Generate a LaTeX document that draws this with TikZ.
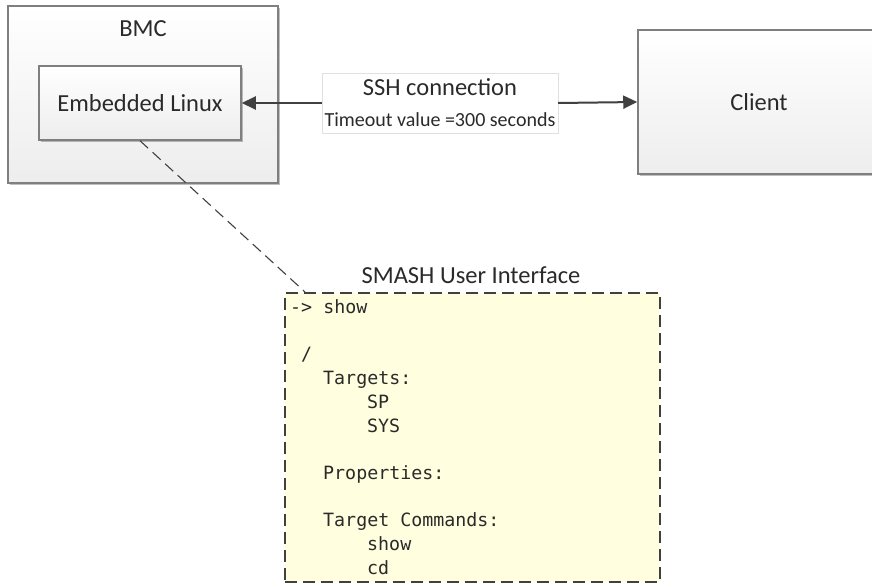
\documentclass[tikz,border=0pt]{standalone}
\usepackage{fontspec}
\setmainfont{Carlito}
\newfontfamily\codefont{DejaVu Sans Mono}
\usetikzlibrary{arrows.meta,shadows}
\definecolor{txt}{HTML}{2A2A2A}
\definecolor{edge}{HTML}{7F7F7F}
\definecolor{dark}{HTML}{404040}
\definecolor{smashfill}{HTML}{FFFFDF}
\tikzset{
  box/.style={draw=edge, line width=1.5pt, top color=white, bottom color=black!7,
    drop shadow={shadow xshift=2pt, shadow yshift=-2pt, opacity=0.25, fill=black},
    rectangle, inner sep=0pt, text=txt},
  big/.style={font=\fontsize{24.5}{28}\selectfont, text=txt, inner sep=0pt},
  small/.style={font=\fontsize{20}{24}\selectfont, text=txt, inner sep=0pt},
  arr/.style={draw=dark, line width=2pt, -{Triangle[length=14pt,width=13pt]}},
  conn/.style={draw=dark, line width=1.1pt, dash pattern=on 11pt off 6pt},
  code/.style={font=\codefont\fontsize{18.3}{22}\selectfont, text=txt, inner sep=0pt, anchor=base west},
}
\begin{document}
\begin{tikzpicture}[x=1pt,y=-1pt]
\useasboundingbox (0,0) rectangle (872,586);
\clip (0,0) rectangle (872,586);
\fill[white] (0,0) rectangle (872,586);
% BMC
\node[box, minimum width=270pt, minimum height=177pt] (bmc) at (143,94.5) {};
\node[big] (bmclabel) at (143,29) {BMC};
\node[box, minimum width=202pt, minimum height=74pt] (emb) at (140,103) {};
\node[big] (embtext) at (140,103) {Embedded Linux};
% Client
\node[box, minimum width=244pt, minimum height=144pt] (client) at (760,102) {};
\node[big] (clienttext) at (759,102) {Client};
% SSH label
\node[draw=black!12, fill=white, minimum width=236pt, minimum height=60pt, inner sep=0pt] (ssh) at (440,103) {};
\node[big] (sshtext) at (440,87) {SSH connection};
\node[small] (timeout) at (440,120) {Timeout value =300 seconds};
\draw[arr] (ssh.west) -- (emb.east);
\draw[arr] (ssh.east) -- (client.west);
% SMASH
\node[draw=dark, line width=2pt, dash pattern=on 12pt off 6pt, fill=smashfill,
  minimum width=375pt, minimum height=289pt, inner sep=0pt] (smash) at (472.5,437.5) {};
\node[big] (smashtitle) at (471,275) {SMASH User Interface};
\coordinate (ct) at (305,292);
\draw[conn] (emb.south) -- (ct);
% code lines
\node[code] (c1) at (290,313) {->~show};
\node[code] (c2) at (301,360) {/};
\node[code] (c3) at (323,384) {Targets:};
\node[code] (c4) at (367,408) {SP};
\node[code] (c5) at (367,432) {SYS};
\node[code] (c6) at (323,479) {Properties:};
\node[code] (c7) at (323,526) {Target~Commands:};
\node[code] (c8) at (367,550) {show};
\node[code] (c9) at (367,574) {cd};
\end{tikzpicture}
\end{document}
